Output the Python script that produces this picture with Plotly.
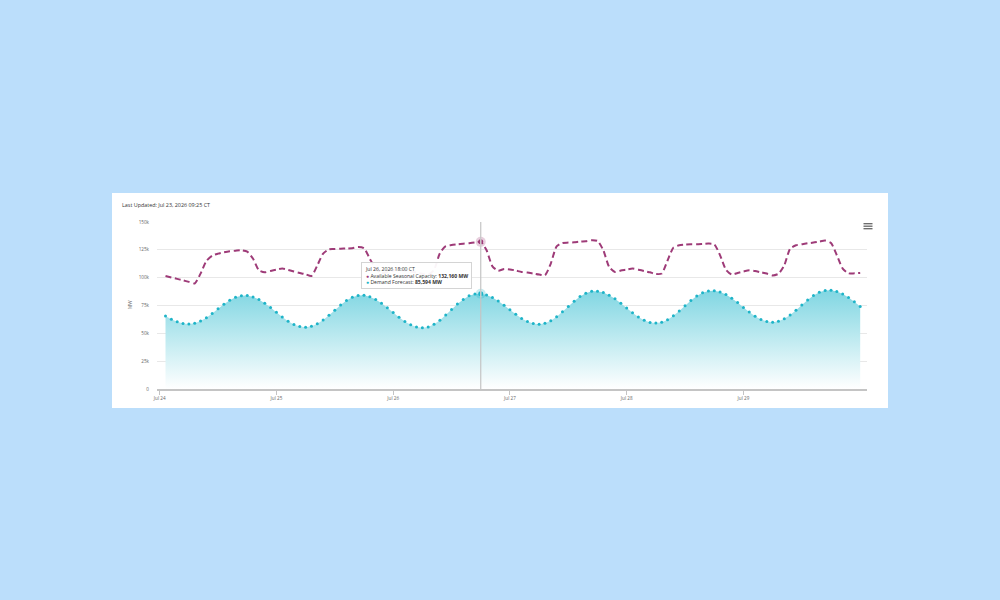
import pandas as pd
import plotly.graph_objects as go

# ---------------- data ----------------
start_time = "2026-07-24 01:12"
n_points = 120
step = "72min"

capacity_k = [
    101.5, 100.2, 98.9, 97.6, 96.2, 94.8, 103.6, 115.0, 119.8, 121.6, 122.8, 123.7, 124.2, 124.6, 123.4, 117.0, 106.6, 104.8, 106.0, 107.2,
    108.2, 107.0, 105.5, 104.2, 103.0, 101.5, 111.0, 121.6, 125.5, 125.7, 126.0, 126.2, 126.5, 127.5, 126.5, 117.0, 108.0, 104.0, 105.0, 106.5,
    107.5, 106.5, 105.5, 104.5, 103.5, 102.5, 107.0, 122.0, 128.3, 129.3, 129.9, 130.5, 131.0, 131.6, 132.16, 124.6, 110.2, 106.2, 107.8, 107.4,
    106.4, 105.1, 104.6, 103.7, 102.8, 102.2, 112.7, 128.2, 131.2, 131.5, 131.8, 132.4, 132.7, 133.6, 133.0, 124.6, 109.6, 105.1, 106.4, 107.2,
    108.2, 107.2, 106.0, 104.8, 103.3, 103.7, 115.4, 127.0, 129.1, 129.7, 130.0, 130.0, 130.3, 130.6, 130.0, 120.1, 107.2, 102.8, 104.2, 105.5,
    106.6, 106.0, 104.8, 103.7, 102.0, 103.5, 111.1, 126.1, 129.1, 130.0, 130.9, 131.5, 132.4, 133.3, 131.2, 120.1, 108.2, 103.9, 103.9, 104.2,
]

demand_k = [
    65.6, 62.7, 60.4, 58.9, 58.4, 59.1, 61.1, 64.1, 67.9, 72.1, 76.1, 79.7, 82.3, 83.7, 83.9, 82.7, 80.4, 77.1, 73.1, 68.9,
    64.7, 60.9, 58.0, 56.1, 55.5, 56.3, 58.5, 61.9, 66.2, 70.8, 75.4, 79.4, 82.3, 83.9, 84.1, 82.9, 80.5, 77.1, 73.0, 68.7,
    64.4, 60.6, 57.6, 55.6, 55.0, 55.8, 58.2, 61.8, 66.4, 71.4, 76.3, 80.5, 83.7, 85.4, 85.594, 84.5, 82.2, 79.0, 75.2, 71.1,
    67.1, 63.4, 60.6, 58.8, 58.2, 59.0, 61.3, 64.8, 69.3, 74.1, 78.9, 83.0, 86.0, 87.7, 87.9, 86.7, 84.3, 81.0, 77.0, 72.7,
    68.5, 64.7, 61.7, 59.8, 59.2, 60.0, 62.2, 65.7, 70.0, 74.8, 79.4, 83.5, 86.5, 88.1, 88.3, 87.1, 84.8, 81.5, 77.6, 73.3,
    69.1, 65.4, 62.5, 60.6, 60.0, 60.8, 63.0, 66.4, 70.7, 75.4, 80.0, 83.9, 86.9, 88.5, 88.7, 87.6, 85.3, 82.2, 78.3, 74.2,
]

x_tick_vals = ["2026-07-24", "2026-07-25", "2026-07-26", "2026-07-27", "2026-07-28", "2026-07-29"]
x_tick_text = ["Jul 24", "Jul 25", "Jul 26", "Jul 27", "Jul 28", "Jul 29"]
y_tick_vals = [0, 25000, 50000, 75000, 100000, 125000, 150000]
y_tick_text = ["0", "25k", "50k", "75k", "100k", "125k", "150k"]

hover_index = 54
title_text = "Last Updated: Jul 23, 2026 09:25 CT"
tooltip_header = "Jul 26, 2026 18:00 CT"
cap_name = "Available Seasonal Capacity"
dem_name = "Demand Forecast"

# ---------------- styles ----------------
FONT = "Open Sans"
BG = "#BBDEFB"
CAP_COLOR = "#9e3b78"
DEM_COLOR = "#1fb4c8"
FILL_TOP = "rgb(128,214,226)"

times = pd.date_range(start=start_time, periods=n_points, freq=step)
capacity = [v * 1000 for v in capacity_k]
demand = [v * 1000 for v in demand_k]
hx = times[hover_index]

fig = go.Figure()

fig.add_trace(go.Scatter(
    x=times, y=demand, mode="markers", fill="tozeroy",
    fillgradient=dict(type="vertical",
                      colorscale=[[0, "rgba(255,255,255,1)"], [1, FILL_TOP]],
                      start=0, stop=89000),
    marker=dict(size=3, color=DEM_COLOR),
    line=dict(width=0), name=dem_name, hoverinfo="skip",
))

fig.add_trace(go.Scatter(
    x=times, y=capacity, mode="lines",
    line=dict(color=CAP_COLOR, width=2, dash="6px,3.5px", shape="spline", smoothing=0.6),
    name=cap_name, hoverinfo="skip",
))

# hover state markers
fig.add_trace(go.Scatter(
    x=[hx, hx], y=[capacity[hover_index], demand[hover_index]], mode="markers",
    marker=dict(size=10, color=[CAP_COLOR, DEM_COLOR], opacity=0.25),
    hoverinfo="skip",
))
fig.add_trace(go.Scatter(
    x=[hx, hx], y=[capacity[hover_index], demand[hover_index]], mode="markers",
    marker=dict(size=5, color=[CAP_COLOR, DEM_COLOR]),
    hoverinfo="skip",
))
fig.add_trace(go.Scatter(
    x=[hx, hx], y=[capacity[hover_index], demand[hover_index]], mode="markers",
    marker=dict(size=5, symbol="line-ns", line=dict(color="white", width=1)),
    hoverinfo="skip",
))

# paper coordinates helpers (plot area: x 157..867, y 222..389)
L, R, T, B = 157, 133, 222, 211
PW, PH = 1000 - L - R, 600 - T - B
def px(x):
    return (x - L) / PW
def py(y):
    return (600 - B - y) / PH

shapes = [
    dict(type="rect", xref="paper", yref="paper", x0=px(112), x1=px(888), y0=py(408), y1=py(193),
         fillcolor="white", line=dict(width=0), layer="below"),
    dict(type="line", xref="x", yref="paper", x0=hx, x1=hx, y0=0, y1=1,
         line=dict(color="#c4c4c4", width=1.2), layer="above"),
]
for yy in (223.7, 226.2, 228.7):
    shapes.append(dict(type="line", xref="paper", yref="paper", x0=px(863.5), x1=px(872.5),
                       y0=py(yy), y1=py(yy), line=dict(color="#666666", width=1.3)))

tooltip = (f"{tooltip_header}<br>"
           f"<span style='color:{CAP_COLOR}'>●</span> {cap_name}: <b>{capacity_k[hover_index]*1000:,.0f} MW</b><br>"
           f"<span style='color:{DEM_COLOR}'>●</span> {dem_name}: <b>{demand_k[hover_index]*1000:,.0f} MW</b>")

annotations = [
    dict(text=title_text, xref="paper", yref="paper", x=px(120), y=py(205),
         xanchor="left", yanchor="middle", showarrow=False,
         font=dict(family=FONT, size=5.4, color="#333333")),
    dict(text="MW", xref="paper", yref="paper", x=px(130), y=py(305),
         xanchor="center", yanchor="middle", showarrow=False, textangle=-90,
         font=dict(family=FONT, size=4.6, color="#666666")),
    dict(text=tooltip, xref="paper", yref="paper", x=px(361), y=py(262),
         xanchor="left", yanchor="top", showarrow=False, align="left",
         bgcolor="rgba(255,255,255,0.95)", bordercolor="#d4d4d4", borderwidth=1, borderpad=3,
         font=dict(family=FONT, size=5.1, color="#333333")),
]

fig.update_layout(
    width=1000, height=600,
    margin=dict(l=L, r=R, t=T, b=B),
    paper_bgcolor=BG, plot_bgcolor="rgba(0,0,0,0)",
    showlegend=False,
    shapes=shapes, annotations=annotations,
    font=dict(family=FONT),
)
fig.update_xaxes(
    type="date", range=["2026-07-23 23:27", "2026-07-30 01:24"],
    tickvals=x_tick_vals, ticktext=x_tick_text,
    showgrid=False, showline=True, linecolor="#c4c4c4", linewidth=1.5,
    ticks="outside", ticklen=4, tickcolor="#c4c4c4", tickwidth=1,
    tickfont=dict(family=FONT, size=4.6, color="#666666"),
    zeroline=False, fixedrange=True,
)
fig.update_yaxes(
    range=[0, 150000], tickvals=y_tick_vals, ticktext=y_tick_text,
    showgrid=True, gridcolor="#e8e8e8", gridwidth=1,
    zeroline=False, showline=False, ticks="",
    ticklabelstandoff=7,
    tickfont=dict(family=FONT, size=4.6, color="#666666"),
    fixedrange=True,
)

fig.write_html("out.html")
